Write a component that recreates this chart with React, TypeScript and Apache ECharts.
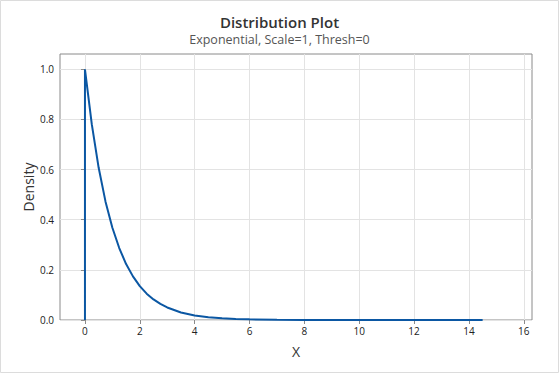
import React, { useEffect, useRef } from "react";
import * as echarts from "echarts";

const titleText = "Distribution Plot";
const subtitleText = "Exponential, Scale=1, Thresh=0";
const xName = "X";
const yName = "Density";

const xTicks = [0, 2, 4, 6, 8, 10, 12, 14, 16];
const yTicks = [0, 0.2, 0.4, 0.6, 0.8, 1.0];

// density curve points
const curveX = [0, 0, 0.25, 0.5, 0.75, 1, 1.25, 1.5, 1.75, 2, 2.25, 2.5, 2.75, 3, 3.5, 4, 4.5, 5, 5.5, 6, 7, 8, 9, 10, 12, 14.5];
const curveY = [0, 1.0, 0.78, 0.607, 0.472, 0.368, 0.287, 0.223, 0.174, 0.135, 0.105, 0.082, 0.064, 0.05, 0.03, 0.018, 0.011, 0.0067, 0.0041, 0.0025, 0.0009, 0.0003, 0.0001, 0.00005, 0.00001, 0.0];

export default function App() {
  const ref = useRef<HTMLDivElement>(null);
  useEffect(() => {
    document.body.style.margin = "0";
    const chart = echarts.init(ref.current!, undefined, { renderer: "svg" });
    const font = "'Open Sans', 'Noto Sans', sans-serif";
    chart.setOption({
      animation: false,
      backgroundColor: "#ffffff",
      textStyle: { fontFamily: font },
      title: {
        text: titleText,
        subtext: subtitleText,
        left: "center",
        top: 9,
        itemGap: 4,
        textStyle: { fontSize: 15, fontWeight: 600, color: "#333333", fontFamily: font },
        subtextStyle: { fontSize: 12.5, color: "#555555", fontFamily: font },
      },
      graphic: [
        {
          type: "rect",
          shape: { x: 0.5, y: 0.5, width: 558, height: 372 },
          style: { fill: "none", stroke: "#dcdcdc", lineWidth: 1 },
          silent: true,
        },
      ],
      grid: {
        left: 60,
        top: 54,
        right: 27,
        bottom: 53,
        show: true,
        borderColor: "#8a8a8a",
        borderWidth: 1,
        backgroundColor: "transparent",
      },
      xAxis: {
        type: "value",
        min: -0.91,
        max: 16.3,
        name: xName,
        nameLocation: "middle",
        nameGap: 24,
        nameMoveOverlap: false,
        nameTextStyle: { fontSize: 14, color: "#333333", fontFamily: font },
        axisLine: { show: false },
        axisTick: { show: true, length: 4, lineStyle: { color: "#8a8a8a" }, customValues: xTicks },
        axisLabel: { customValues: xTicks, fontSize: 10, color: "#222222", margin: 6, formatter: (v: number) => String(v) },
        splitLine: { show: true, lineStyle: { color: "#e3e3e3", width: 1 } },
      },
      yAxis: {
        type: "value",
        min: 0,
        max: 1.061,
        name: yName,
        nameLocation: "middle",
        nameGap: 25,
        nameMoveOverlap: false,
        nameTextStyle: { fontSize: 14, color: "#333333", fontFamily: font },
        axisLine: { show: false },
        axisTick: { show: true, length: 4, lineStyle: { color: "#8a8a8a" }, customValues: yTicks },
        axisLabel: { customValues: yTicks, fontSize: 10, color: "#222222", margin: 6, formatter: (v: number) => v.toFixed(1) },
        splitLine: { show: true, lineStyle: { color: "#e3e3e3", width: 1 } },
      },
      series: [
        {
          type: "line",
          data: curveX.map((x, i) => [x, curveY[i]]),
          showSymbol: false,
          smooth: false,
          lineStyle: { color: "#0b57a3", width: 2 },
          itemStyle: { color: "#0b57a3" },
        },
      ],
    });
    return () => chart.dispose();
  }, []);
  return <div ref={ref} style={{ width: 559, height: 373 }} />;
}
